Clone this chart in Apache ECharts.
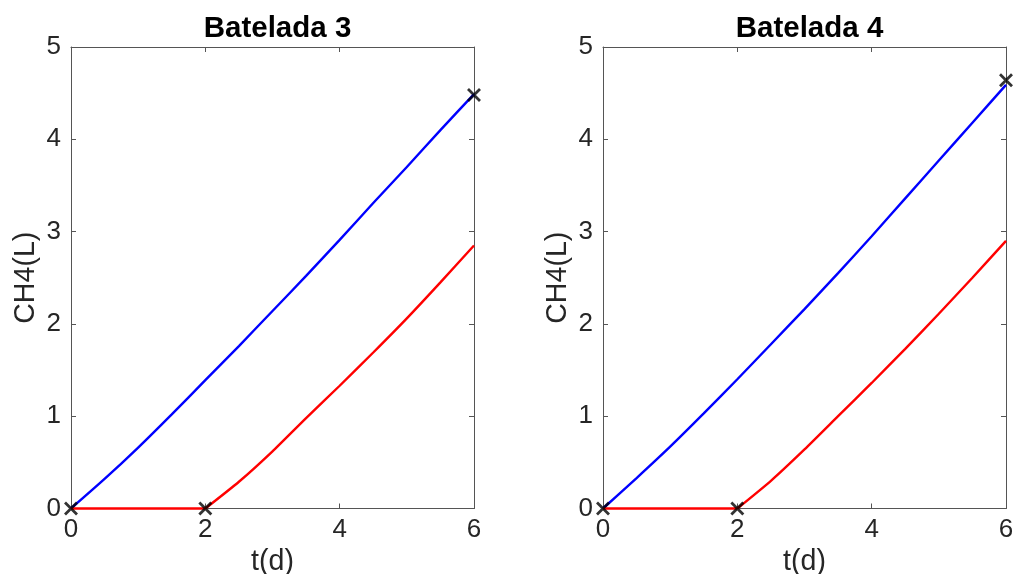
<!DOCTYPE html>
<html>
<head>
<meta charset="utf-8">
<script src="https://cdn.jsdelivr.net/npm/echarts@6/dist/echarts.min.js"></script>
<style>
  html, body { margin: 0; padding: 0; background: #fff; }
  #chart { width: 1015px; height: 574px; }
</style>
</head>
<body>
<div id="chart"></div>
<script>
// ---- data ----
const titles = ['Batelada 3', 'Batelada 4'];
const xTitle = 't(d)';
const yTitle = 'CH4(L)';
const tDays = [0, 0.5, 1, 1.5, 2, 2.5, 3, 3.5, 4, 4.5, 5, 5.5, 6];
const blue3 = [0, 0.32, 0.66, 1.02, 1.39, 1.76, 2.14, 2.52, 2.91, 3.31, 3.70, 4.10, 4.49];
const red3  = [0, 0, 0, 0, 0, 0.29, 0.62, 0.98, 1.33, 1.69, 2.06, 2.45, 2.85];
const blue4 = [0, 0.33, 0.67, 1.03, 1.40, 1.78, 2.16, 2.55, 2.95, 3.36, 3.77, 4.18, 4.59];
const red4  = [0, 0, 0, 0, 0, 0.30, 0.64, 1.00, 1.36, 1.73, 2.11, 2.50, 2.90];
const marks3 = [[0, 0], [2, 0], [6, 4.48]];
const marks4 = [[0, 0], [2, 0], [6, 4.64]];
const xTicks = { min: 0, max: 6, interval: 2 };
const yTicks = { min: 0, max: 5, interval: 1 };
const redStartDay = 2; // red curve is flat at 0 until this day

// ---- styling ----
const FONT = 'Liberation Sans, Arial, Helvetica, sans-serif';
const AXC = '#262626';
const LINEC = '#555555';
const pair = (xs, ys) => xs.map((x, i) => [x, ys[i]]);

const grids = [
  { left: 71, top: 47, width: 403, height: 461.5, outerBoundsMode: 'none', containLabel: false },
  { left: 603, top: 47, width: 403, height: 461.5, outerBoundsMode: 'none', containLabel: false }
];

function xAxes(gi) {
  const base = {
    gridIndex: gi, type: 'value', min: xTicks.min, max: xTicks.max, interval: xTicks.interval,
    axisLine: { show: true, onZero: false, lineStyle: { color: LINEC, width: 1 } },
    axisTick: { show: true, inside: true, length: 5, lineStyle: { color: LINEC, width: 1 } },
    splitLine: { show: false }
  };
  return [
    Object.assign({}, base, {
      position: 'bottom',
      axisLabel: { show: true, fontSize: 26, color: AXC, fontFamily: FONT, margin: 8 },
      name: xTitle, nameLocation: 'middle', nameGap: 36,
      nameTextStyle: { fontSize: 28.6, color: AXC, fontFamily: FONT }
    }),
    Object.assign({}, base, { position: 'top', axisLabel: { show: false } })
  ];
}
function yAxes(gi) {
  const base = {
    gridIndex: gi, type: 'value', min: yTicks.min, max: yTicks.max, interval: yTicks.interval,
    axisLine: { show: true, onZero: false, lineStyle: { color: LINEC, width: 1 } },
    axisTick: { show: true, inside: true, length: 5, lineStyle: { color: LINEC, width: 1 } },
    splitLine: { show: false }
  };
  return [
    Object.assign({}, base, {
      position: 'left',
      axisLabel: { show: true, fontSize: 26, color: AXC, fontFamily: FONT, margin: 10 },
      name: yTitle, nameLocation: 'middle', nameGap: 30, nameRotate: 90,
      nameTextStyle: { fontSize: 28.6, color: AXC, fontFamily: FONT }
    }),
    Object.assign({}, base, { position: 'right', axisLabel: { show: false } })
  ];
}

function lineSeries(xi, yi, data, color, smooth) {
  return {
    type: 'line', xAxisIndex: xi, yAxisIndex: yi, data: data,
    showSymbol: false, symbol: 'none', clip: false, z: 2, smooth: smooth,
    lineStyle: { color: color, width: 2.4 }, itemStyle: { color: color }
  };
}
function markSeries(xi, yi, data) {
  return {
    type: 'scatter', xAxisIndex: xi, yAxisIndex: yi, data: data, clip: false, z: 5,
    symbol: 'path://M0,0L10,10M10,0L0,10', symbolSize: 12,
    itemStyle: { color: 'rgba(0,0,0,0)', borderColor: '#000', borderWidth: 2.8 }
  };
}
function redParts(xi, yi, vals) {
  const pts = pair(tDays, vals);
  const k = tDays.indexOf(redStartDay);
  return [
    lineSeries(xi, yi, pts.slice(0, k + 1), '#ff0000', false),
    lineSeries(xi, yi, pts.slice(k), '#ff0000', 0.2)
  ];
}

const option = {
  animation: false,
  backgroundColor: '#ffffff',
  title: titles.map((t, i) => ({
    text: t,
    left: grids[i].left + grids[i].width / 2,
    textAlign: 'center',
    top: 9,
    textStyle: { fontSize: 29.5, fontWeight: 'bold', color: '#000', fontFamily: FONT }
  })),
  grid: grids,
  xAxis: [].concat(xAxes(0), xAxes(1)),
  yAxis: [].concat(yAxes(0), yAxes(1)),
  series: [].concat(
    [lineSeries(0, 0, pair(tDays, blue3), '#0000ff', 0.2)],
    redParts(0, 0, red3),
    [markSeries(0, 0, marks3)],
    [lineSeries(2, 2, pair(tDays, blue4), '#0000ff', 0.2)],
    redParts(2, 2, red4),
    [markSeries(2, 2, marks4)]
  )
};

const chart = echarts.init(document.getElementById('chart'), null, { renderer: 'canvas' });
chart.setOption(option);
</script>
</body>
</html>
